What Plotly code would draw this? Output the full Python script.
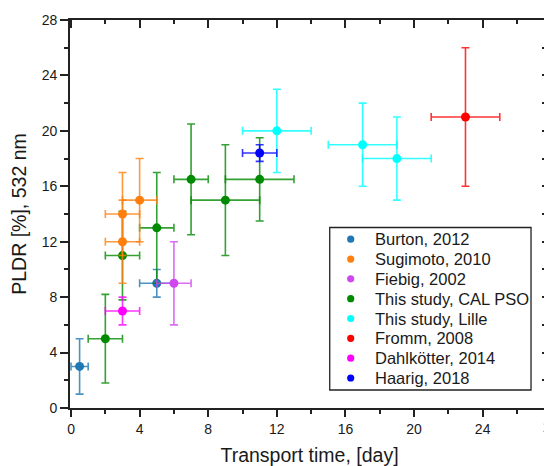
import plotly.graph_objects as go

# ---------------- data ----------------
series_names = ["Burton, 2012", "Sugimoto, 2010", "Fiebig, 2002", "This study, CAL PSO",
                "This study, Lille", "Fromm, 2008", "Dahlkötter, 2014", "Haarig, 2018"]
series_colors = ["#1f77b4", "#ff7f0e", "#cf48ef", "#008a00",
                 "#00ffff", "#ff0000", "#ff00ff", "#0000ff"]

burton_x = [0.5, 5]
burton_y = [3, 9]
burton_xerr = [0.5, 1]
burton_yerr = [2, 1]

sugimoto_x = [3, 3, 4]
sugimoto_y = [12, 14, 15]
sugimoto_xerr = [1, 1, 1]
sugimoto_yerr = [3, 3, 3]

fiebig_x = [6]
fiebig_y = [9]
fiebig_xerr = [1]
fiebig_yerr = [3]

calpso_x = [2, 3, 5, 7, 9, 11]
calpso_y = [5, 11, 13, 16.5, 15, 16.5]
calpso_xerr = [1, 1, 1, 1, 2, 2]
calpso_yerr = [3.2, 3.2, 4, 4, 4, 3]

lille_x = [12, 17, 19]
lille_y = [20, 19, 18]
lille_xerr = [2, 2, 2]
lille_yerr = [3, 3, 3]

fromm_x = [23]
fromm_y = [21]
fromm_xerr = [2]
fromm_yerr = [5]

dahl_x = [3]
dahl_y = [7]
dahl_xerr = [1]
dahl_yerr = [1]

haarig_x = [11]
haarig_y = [18.4]
haarig_xerr = [1]
haarig_yerr = [0.6]

x_ticks = [0, 4, 8, 12, 16, 20, 24, 28]
y_ticks = [0, 4, 8, 12, 16, 20, 24, 28]

x_title = "Transport time, [day]"
y_title = "PLDR [%], 532 nm"

# ---------------- figure ----------------
FONT = "Liberation Sans, Arial, sans-serif"
TXT = "#1a1a1a"
XMIN, XMAX = -0.06, 27.87
OFF = 8                      # page body margin in the browser
W, H = 552 - OFF, 466 - OFF  # figure fills the visible window
ML, MR, MT, MB = 62, 2.5, 12, 58
PW, PH = W - ML - MR, H - MT - MB


def px_to_paper(px, py):
    """page pixel -> paper coords"""
    return (px - OFF - ML) / PW, (H - MB - (py - OFF)) / PH


datasets = {
    "Burton, 2012": (burton_x, burton_y, burton_xerr, burton_yerr),
    "Sugimoto, 2010": (sugimoto_x, sugimoto_y, sugimoto_xerr, sugimoto_yerr),
    "Fiebig, 2002": (fiebig_x, fiebig_y, fiebig_xerr, fiebig_yerr),
    "This study, CAL PSO": (calpso_x, calpso_y, calpso_xerr, calpso_yerr),
    "This study, Lille": (lille_x, lille_y, lille_xerr, lille_yerr),
    "Fromm, 2008": (fromm_x, fromm_y, fromm_xerr, fromm_yerr),
    "Dahlkötter, 2014": (dahl_x, dahl_y, dahl_xerr, dahl_yerr),
    "Haarig, 2018": (haarig_x, haarig_y, haarig_xerr, haarig_yerr),
}
draw_order = ["Burton, 2012", "This study, CAL PSO", "Sugimoto, 2010", "Fiebig, 2002",
              "This study, Lille", "Fromm, 2008", "Dahlkötter, 2014", "Haarig, 2018"]


def faded(hexcol, a=0.8):
    h = hexcol.lstrip("#")
    r, g, b = int(h[0:2], 16), int(h[2:4], 16), int(h[4:6], 16)
    return f"rgba({r},{g},{b},{a})"


fig = go.Figure()
for name in draw_order:
    xs, ys, xe, ye = datasets[name]
    col = series_colors[series_names.index(name)]
    fig.add_trace(go.Scatter(
        x=xs, y=ys, mode="markers", name=name, showlegend=False,
        marker=dict(color=col, size=9),
        error_x=dict(type="data", array=xe, symmetric=True, color=faded(col), thickness=1.6, width=4),
        error_y=dict(type="data", array=ye, symmetric=True, color=faded(col), thickness=1.6, width=4),
    ))

# invisible trace on mirrored axes so they are drawn
fig.add_trace(go.Scatter(x=[None], y=[None], xaxis="x2", yaxis="y2", showlegend=False, hoverinfo="skip"))

axis_line = dict(showline=True, linecolor="#222", linewidth=1.8, showgrid=False, zeroline=False,
                 automargin=False)

fig.update_layout(
    width=W, height=H,
    margin=dict(l=ML, r=MR, t=MT, b=MB),
    paper_bgcolor="white", plot_bgcolor="white",
    font=dict(family=FONT, color=TXT, size=14),
    showlegend=False,
    xaxis=dict(
        range=[XMIN, XMAX], tickvals=x_ticks, ticks="outside", ticklen=7, tickwidth=1.5,
        tickcolor="#222", tickfont=dict(size=14, family=FONT, color=TXT),
        minor=dict(dtick=2, tick0=0, ticks="outside", ticklen=4, tickwidth=1.5, tickcolor="#222"),
        title=dict(text=x_title, font=dict(size=19.5, family=FONT, color=TXT), standoff=14),
        **axis_line,
    ),
    yaxis=dict(
        range=[0, 28], tickvals=y_ticks, ticks="outside", ticklen=8, tickwidth=1.5,
        tickcolor="#222", tickfont=dict(size=14, family=FONT, color=TXT),
        minor=dict(dtick=2, tick0=0, ticks="outside", ticklen=4, tickwidth=1.5, tickcolor="#222"),
        title=dict(text=y_title, font=dict(size=19.5, family=FONT, color=TXT), standoff=13),
        **axis_line,
    ),
    xaxis2=dict(
        overlaying="x", side="top", range=[XMIN, XMAX], tickvals=x_ticks, ticks="inside",
        ticklen=8, tickwidth=1.5, tickcolor="#222", showticklabels=False,
        minor=dict(dtick=2, tick0=0, ticks="inside", ticklen=4, tickwidth=1.5, tickcolor="#222"),
        **axis_line,
    ),
    yaxis2=dict(
        overlaying="y", side="right", range=[0, 28], dtick=2, tick0=0, ticks="inside",
        ticklen=7, tickwidth=1.5, tickcolor="#222", showticklabels=False,
        **axis_line,
    ),
)

# partially visible last x tick label ("28") just beyond the right edge
fig.add_annotation(
    x=(x_ticks[-1] - XMIN) / (XMAX - XMIN), y=0, xref="paper", yref="paper",
    text=str(x_ticks[-1]), showarrow=False, xanchor="center", yanchor="top",
    yshift=-9, font=dict(size=14, family=FONT, color=TXT),
)

# ---------------- legend (boxed, drawn in paper coordinates) ----------------
box_x0, box_y0 = px_to_paper(330, 390)
box_x1, box_y1 = px_to_paper(531.5, 227.5)
fig.add_shape(type="rect", xref="paper", yref="paper", x0=box_x0, y0=box_y0, x1=box_x1, y1=box_y1,
              line=dict(color="#222", width=1.3), fillcolor="white", layer="above")
row0, row_gap = 239.2, 19.83
for i, name in enumerate(series_names):
    py = row0 + i * row_gap
    mx, my = px_to_paper(351, py)
    fig.add_shape(type="circle", xref="paper", yref="paper", xsizemode="pixel", ysizemode="pixel",
                  xanchor=mx, yanchor=my, x0=-3.6, x1=3.6, y0=-3.6, y1=3.6,
                  fillcolor=series_colors[i], line=dict(width=0), layer="above")
    tx, ty = px_to_paper(373, py)
    fig.add_annotation(x=tx, y=ty, xref="paper", yref="paper", text=name, showarrow=False,
                       xanchor="left", yanchor="middle", font=dict(size=16.5, family=FONT, color=TXT))

fig.write_html("out.html")
